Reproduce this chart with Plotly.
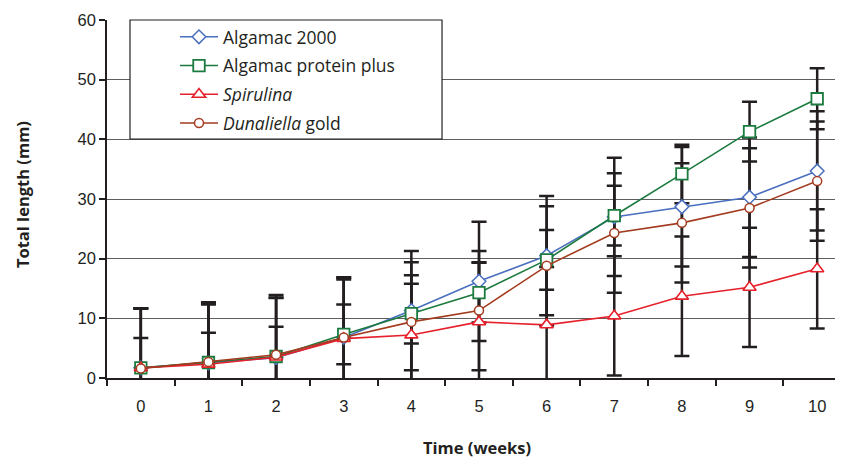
import plotly.graph_objects as go

weeks = [0, 1, 2, 3, 4, 5, 6, 7, 8, 9, 10]

algamac_2000 = [1.7, 2.5, 3.4, 6.8, 11.3, 16.2, 20.5, 27.0, 28.7, 30.3, 34.7]
algamac_pp = [1.7, 2.6, 3.6, 7.3, 10.8, 14.3, 19.8, 27.2, 34.2, 41.3, 46.8]
spirulina = [1.7, 2.3, 3.5, 6.6, 7.2, 9.4, 8.9, 10.4, 13.7, 15.2, 18.3]
dunaliella = [1.6, 2.7, 3.9, 6.8, 9.4, 11.3, 18.8, 24.3, 26.0, 28.5, 33.0]

sd_2000 = [10, 10, 10, 10.1, 10, 10, 10, 9.9, 10, 10, 10]
sd_pp = [5, 5, 5, 5, 5, 5, 5, 5, 4.9, 5, 5.1]
sd_spir = [10, 10, 10, 9.9, 10, 10, 9.7, 10, 10, 10, 10]
sd_dun = [10, 10, 10, 10, 10, 10, 10, 10, 10, 10, 10]

series = [
    ("Algamac 2000", algamac_2000, sd_2000, "#4a6fbf", "diamond", 10.5, 1.5),
    ("Algamac protein plus", algamac_pp, sd_pp, "#1b7a3e", "square", 11.5, 1.8),
    ("<i>Spirulina</i>", spirulina, sd_spir, "#e6202a", "triangle-up", 11.5, 1.6),
    ("<i>Dunaliella</i> gold", dunaliella, sd_dun, "#a33b1f", "circle", 9, 1.5),
]

fig = go.Figure()

# error bars first so that lines and markers sit on top of them
for name, vals, sd, col, sym, size, lw in series:
    fig.add_trace(go.Scatter(
        x=weeks, y=vals, mode="markers", showlegend=False, hoverinfo="skip",
        marker=dict(size=1, color="rgba(0,0,0,0)"),
        error_y=dict(type="data", array=sd, visible=True,
                     color="#231f20", thickness=2.5, width=7.5),
    ))

for i, (name, vals, sd, col, sym, size, lw) in enumerate(series):
    fig.add_trace(go.Scatter(
        x=weeks, y=vals, mode="lines+markers", name=name,
        legendgroup=f"g{i}",
        line=dict(color=col, width=1.6),
        marker=dict(symbol=sym, size=size, color="white",
                    line=dict(color=col, width=lw)),
    ))

# legend frame (covers the gridlines behind the legend)
fig.add_shape(type="rect", xref="paper", yref="paper",
              x0=0.0309, x1=0.4503, y0=0.6676, y1=1.0,
              line=dict(color="#231f20", width=1.2), fillcolor="white",
              layer="above")

fig.add_annotation(text="<b>Time (weeks)</b>", xref="paper", yref="paper",
                   x=0.497, y=-0.1955, xanchor="center", yanchor="middle",
                   showarrow=False,
                   font=dict(family="Open Sans", size=16.5, color="#231f20"))
fig.add_annotation(text="<b>Total length (mm)</b>", xref="paper", yref="paper",
                   x=-0.1142, y=0.511, xanchor="center", yanchor="middle",
                   textangle=-90, showarrow=False,
                   font=dict(family="Open Sans", size=16.5, color="#231f20"))

fig.update_layout(
    width=843, height=459,
    margin=dict(l=99, r=0, t=12, b=89),
    plot_bgcolor="white", paper_bgcolor="white",
    font=dict(family="Liberation Sans", color="#231f20"),
    legend=dict(x=0.0914, y=1.003, xanchor="left", yanchor="top",
                bgcolor="rgba(0,0,0,0)", borderwidth=0,
                font=dict(family="Open Sans", size=17.5, color="#231f20"),
                itemwidth=38, tracegroupgap=3, traceorder="grouped"),
)

fig.update_xaxes(
    range=[-0.5, 10.5], tickvals=weeks, ticks="", ticklabelstandoff=12,
    tickfont=dict(size=16.5), showgrid=False, zeroline=False,
    showline=True, linecolor="#231f20", linewidth=2,
    minor=dict(ticks="outside", tick0=-0.5, dtick=1, ticklen=6,
               tickcolor="#231f20", tickwidth=1.5, showgrid=False),
)
fig.update_yaxes(
    range=[0, 60], dtick=10, ticks="outside", ticklen=6,
    tickcolor="#231f20", tickwidth=1.5, tickfont=dict(size=16.5),
    showgrid=True, gridcolor="#5e5e5e", gridwidth=1, zeroline=False,
    showline=True, linecolor="#231f20", linewidth=1.5,
)

fig.write_html("out.html")
